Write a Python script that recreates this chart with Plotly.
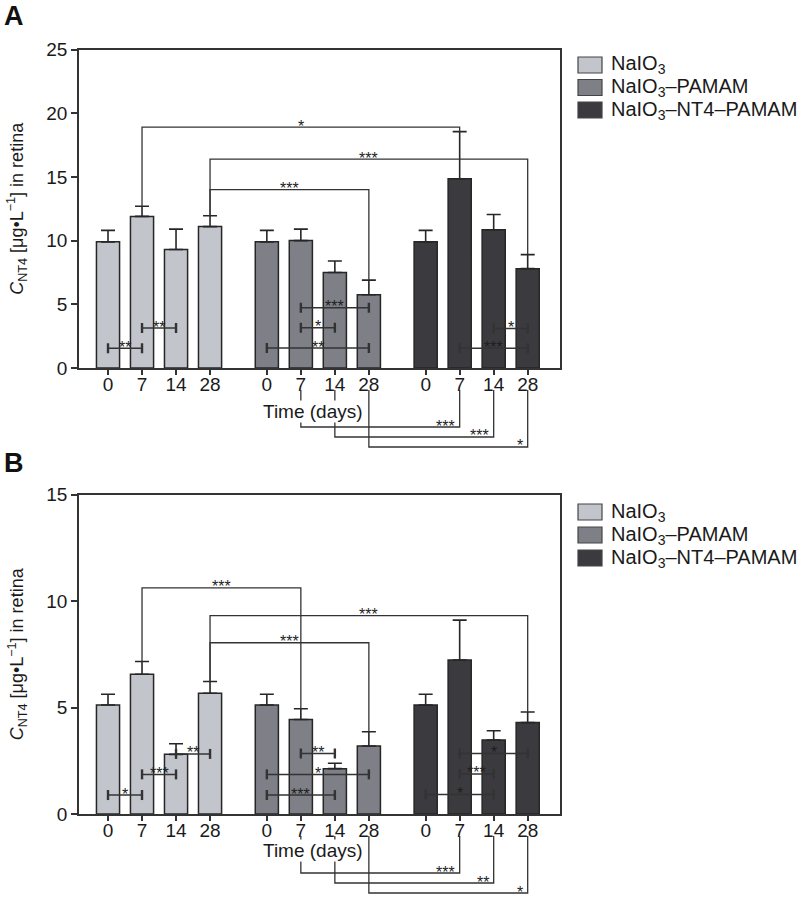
import plotly.graph_objects as go

# ---------------- data ----------------
series_names = ["NaIO<sub>3</sub>", "NaIO<sub>3</sub>–PAMAM", "NaIO<sub>3</sub>–NT4–PAMAM"]
day_labels = ["0", "7", "14", "28"]

# Panel A  (C_NT4, µg/L)
a_naio3 = [9.9, 11.9, 9.3, 11.1]
a_naio3_err = [0.9, 0.8, 1.6, 0.85]
a_pamam = [9.9, 10.0, 7.5, 5.75]
a_pamam_err = [0.9, 0.9, 0.9, 1.15]
a_nt4 = [9.9, 14.85, 10.85, 7.8]
a_nt4_err = [0.9, 3.7, 1.2, 1.1]

# Panel B
b_naio3 = [5.12, 6.56, 2.8, 5.67]
b_naio3_err = [0.5, 0.6, 0.5, 0.55]
b_pamam = [5.12, 4.44, 2.13, 3.19]
b_pamam_err = [0.5, 0.5, 0.25, 0.67]
b_nt4 = [5.12, 7.23, 3.47, 4.29]
b_nt4_err = [0.5, 1.87, 0.44, 0.5]

# significance: within group (group, day_i, day_j, level, label)
a_within = [(0, 0, 1, 1.55, "**"), (0, 1, 2, 3.14, "**"),
            (1, 1, 3, 4.73, "***"), (1, 1, 2, 3.16, "*"), (1, 0, 3, 1.57, "**"),
            (2, 2, 3, 3.11, "*"), (2, 1, 3, 1.55, "***")]
b_within = [(0, 0, 1, 0.89, "*"), (0, 1, 2, 1.86, "***"), (0, 2, 3, 2.82, "**"),
            (1, 1, 2, 2.84, "**"), (1, 0, 3, 1.86, "*"), (1, 0, 2, 0.89, "***"),
            (2, 1, 3, 2.84, "*"), (2, 1, 2, 1.88, "***"), (2, 0, 2, 0.92, "*")]
# above bars (g1, d1, g2, d2, level, label)
a_top = [(0, 1, 2, 1, 18.9, "*"), (0, 3, 2, 3, 16.4, "***"), (0, 3, 1, 3, 14.0, "***")]
b_top = [(0, 1, 1, 1, 10.62, "***"), (0, 3, 2, 3, 9.31, "***"), (0, 3, 1, 3, 8.04, "***")]
# below axis (g1, d1, g2, d2, row, label)
a_bottom = [(1, 1, 2, 1, 0, "***"), (1, 2, 2, 2, 1, "***"), (1, 3, 2, 3, 2, "*")]
b_bottom = [(1, 1, 2, 1, 0, "***"), (1, 2, 2, 2, 1, "**"), (1, 3, 2, 3, 2, "*")]

# ---------------- styling / layout ----------------
W, H = 806, 900
FONT = "Liberation Sans, Arial, Helvetica, sans-serif"
FILLS = ["#c3c5cc", "#7f8087", "#3b3b3f"]
EDGE = "#262626"
LINE = "#333333"
STAR = dict(size=16, color="#1e1e1e", family=FONT)
GROUP_STEP = 4.67
XR = (-0.853, 13.29)
PX_L, PX_R = 79, 560
panels = [
    dict(ax="", top=49.5, bot=368, yr=(0, 25), dt=5, title_y=411.5, letter="A", letter_y=16.5,
         leg_y=[65, 87.5, 110],
         data=[(a_naio3, a_naio3_err), (a_pamam, a_pamam_err), (a_nt4, a_nt4_err)],
         within=a_within, top_=a_top, bottom=a_bottom),
    dict(ax="2", top=494.5, bot=814, yr=(0, 15), dt=5, title_y=850.5, letter="B", letter_y=463,
         leg_y=[512, 535, 558],
         data=[(b_naio3, b_naio3_err), (b_pamam, b_pamam_err), (b_nt4, b_nt4_err)],
         within=b_within, top_=b_top, bottom=b_bottom),
]


def pos(g, d):
    return g * GROUP_STEP + d


def x_px(x):
    return PX_L + (x - XR[0]) / (XR[1] - XR[0]) * (PX_R - PX_L)


def px(x):
    return x / W


def py(y):
    return 1 - y / H


fig = go.Figure()
shapes = []
annotations = []
tickvals = [pos(g, d) for g in range(3) for d in range(4)]
ticktext = day_labels * 3

for p in panels:
    xa = "x" + p["ax"]
    ya = "y" + p["ax"]
    for g, (vals, errs) in enumerate(p["data"]):
        fig.add_trace(go.Bar(
            x=[pos(g, d) for d in range(4)], y=vals, width=0.68,
            marker=dict(color=FILLS[g], line=dict(color=EDGE, width=1.5)),
            error_y=dict(type="data", symmetric=False, array=errs, arrayminus=[0] * 4,
                         color=EDGE, thickness=1.6, width=7),
            name=series_names[g], showlegend=False, xaxis=xa, yaxis=ya))

    tops = [[v + e for v, e in zip(vals, errs)] for vals, errs in p["data"]]
    # within-group brackets
    for g, i, j, lev, lab in p["within"]:
        x1, x2 = pos(g, i), pos(g, j)
        shapes.append(dict(type="line", xref=xa, yref=ya, x0=x1, x1=x2, y0=lev, y1=lev,
                           line=dict(color=LINE, width=1.5)))
        for xx in (x1, x2):
            shapes.append(dict(type="line", xref=xa, yref=ya, xsizemode="scaled",
                               ysizemode="pixel", yanchor=lev, x0=xx, x1=xx, y0=-5, y1=5,
                               line=dict(color=LINE, width=2.4)))
        annotations.append(dict(x=(x1 + x2) / 2, y=lev, xref=xa, yref=ya, text=lab,
                                showarrow=False, yanchor="middle", yshift=1, font=STAR))
    # brackets above bars
    for g1, d1, g2, d2, lev, lab in p["top_"]:
        x1, x2 = pos(g1, d1), pos(g2, d2)
        path = "M{},{} L{},{} L{},{} L{},{}".format(x1, tops[g1][d1], x1, lev, x2, lev, x2, tops[g2][d2])
        shapes.append(dict(type="path", xref=xa, yref=ya, path=path,
                           line=dict(color=LINE, width=1.3)))
        annotations.append(dict(x=(x1 + x2) / 2, y=lev, xref=xa, yref=ya, text=lab,
                                showarrow=False, yanchor="middle", yshift=1, font=STAR))
    # brackets below the axis
    for g1, d1, g2, d2, row, lab in p["bottom"]:
        xa1, xa2 = x_px(pos(g1, d1)), x_px(pos(g2, d2))
        ystart = p["bot"] + 22
        ylev = p["bot"] + 59 + 10 * row
        path = "M{},{} L{},{} L{},{} L{},{}".format(px(xa1), py(ystart), px(xa1), py(ylev),
                                                     px(xa2), py(ylev), px(xa2), py(ystart))
        shapes.append(dict(type="path", xref="paper", yref="paper", path=path,
                           line=dict(color=LINE, width=1.3)))
        annotations.append(dict(x=px(xa2 - 3), y=py(ylev), xref="paper", yref="paper",
                                text=lab, showarrow=False, xanchor="right", yanchor="middle",
                                yshift=1, font=STAR))

    # axis title (white box hides the bracket lines behind it)
    annotations.append(dict(x=px(313), y=py(p["title_y"]), xref="paper", yref="paper",
                            text="Time (days)", showarrow=False, bgcolor="white", borderpad=0,
                            xanchor="center", yanchor="middle",
                            font=dict(size=19, color="#1a1a1a", family=FONT)))
    annotations.append(dict(x=px(17), y=py((p["top"] + p["bot"]) / 2), xref="paper", yref="paper",
                            text="<i>C</i><sub>NT4</sub> [μg•L<sup>−1</sup>] in retina",
                            textangle=-90, showarrow=False, xanchor="center", yanchor="middle",
                            font=dict(size=18, color="#1a1a1a", family=FONT)))
    annotations.append(dict(x=px(14), y=py(p["letter_y"]), xref="paper", yref="paper",
                            text="<b>" + p["letter"] + "</b>", showarrow=False,
                            xanchor="center", yanchor="middle",
                            font=dict(size=27, color="#111", family=FONT)))
    # legend
    for k, yy in enumerate(p["leg_y"]):
        shapes.append(dict(type="rect", xref="paper", yref="paper",
                           x0=px(578), x1=px(602), y0=py(yy - 8), y1=py(yy + 8),
                           fillcolor=FILLS[k], line=dict(color="#444", width=1.2)))
        annotations.append(dict(x=px(609), y=py(yy), xref="paper", yref="paper",
                                text=series_names[k], showarrow=False, xanchor="left",
                                yanchor="middle",
                                font=dict(size=20, color="#1a1a1a", family=FONT)))

    dom_x = [PX_L / W, PX_R / W]
    dom_y = [1 - p["bot"] / H, 1 - p["top"] / H]
    xkey = "xaxis" + p["ax"]
    ykey = "yaxis" + p["ax"]
    fig.update_layout(**{
        xkey: dict(domain=dom_x, range=list(XR), anchor=ya, tickmode="array",
                   tickvals=tickvals, ticktext=ticktext, ticks="outside", ticklen=5,
                   tickwidth=1.5, tickcolor=LINE, showline=True, linecolor=LINE, linewidth=1.8,
                   mirror=True, showgrid=False, zeroline=False, automargin=False,
                   ticklabelstandoff=-7,
                   tickfont=dict(size=19, color="#1a1a1a", family=FONT)),
        ykey: dict(domain=dom_y, range=list(p["yr"]), anchor=xa, tickmode="linear",
                   tick0=0, dtick=p["dt"], ticks="outside", ticklen=6, tickwidth=1.5,
                   tickcolor=LINE, showline=True, linecolor=LINE, linewidth=1.8,
                   mirror=True, showgrid=False, zeroline=False, automargin=False,
                   tickfont=dict(size=19, color="#1a1a1a", family=FONT)),
    })

fig.update_layout(template="none", width=W, height=H, autosize=False,
                  margin=dict(l=0, r=0, t=0, b=0, pad=0),
                  paper_bgcolor="white", plot_bgcolor="white", barmode="overlay",
                  shapes=shapes, annotations=annotations, showlegend=False,
                  font=dict(family=FONT))
fig.write_html("out.html", config={"displayModeBar": False},
               post_script="document.body.style.margin='0';document.body.style.overflow='hidden';")
